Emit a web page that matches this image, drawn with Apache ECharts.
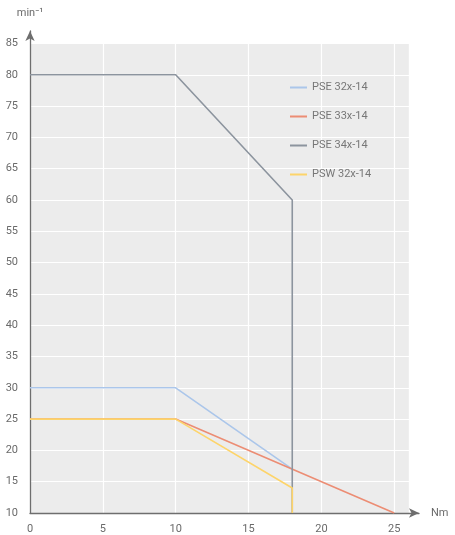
<!DOCTYPE html>
<html>
<head>
<meta charset="utf-8">
<script src="https://cdn.jsdelivr.net/npm/echarts@6/dist/echarts.min.js"></script>
<style>
  html, body { margin: 0; padding: 0; background: #fff; }
  #chart { width: 455px; height: 535px; }
</style>
</head>
<body>
<div id="chart"></div>
<script>
// curves: [torque Nm, speed min-1]
var seriesNames = ['PSE 32x-14', 'PSE 33x-14', 'PSE 34x-14', 'PSW 32x-14'];
var pse32 = [[0, 30], [10, 30], [18, 17]];
var pse33 = [[0, 25], [10, 25], [25, 10]];
var pse34 = [[0, 80], [10, 80], [18, 60], [18, 10]];
var psw32 = [[0, 25], [10, 25], [18, 14], [18, 10]];
// shaded plot area (data range) in Nm / min-1
var plotArea = [[0, 10], [26, 85]];
var colors = ['#abc6ea', '#ec8d74', '#8c949e', '#fdd46a'];

var myChart = echarts.init(document.getElementById('chart'));

var datas = [pse32, pse33, pse34, psw32];
var series = datas.map(function (d, i) {
    return {
        name: seriesNames[i],
        type: 'line',
        symbol: 'none',
        lineStyle: { color: colors[i], width: 1.6 },
        itemStyle: { color: colors[i] },
        data: d
    };
});
// grey background under the gridlines
series.unshift({
    type: 'line',
    z: -1,
    data: [],
    silent: true,
    markArea: {
        z: -1,
        silent: true,
        itemStyle: { color: '#ececec' },
        data: [[{ coord: plotArea[0] }, { coord: plotArea[1] }]]
    }
});

var axisText = { color: '#6a6a6a', fontSize: 11, fontFamily: 'Roboto' };
var axisLine = { show: true, lineStyle: { color: '#6e6e6e', width: 1.3 }, symbol: ['none', 'arrow'], symbolSize: [7, 10] };

var options = {
    animation: false,
    grid: { left: 30, right: 36, top: 31, bottom: 16, borderWidth: 0 },
    legend: {
        orient: 'vertical',
        left: 285, top: 77,
        itemWidth: 17, itemHeight: 2, itemGap: 18,
        icon: 'rect',
        textStyle: { color: '#777', fontSize: 11, fontFamily: 'Roboto' },
        data: seriesNames
    },
    xAxis: {
        type: 'value',
        min: 0, max: 26.7, interval: 5,
        name: 'Nm',
        nameGap: 12,
        nameTextStyle: axisText,
        axisLine: axisLine,
        axisTick: { show: false },
        axisLabel: Object.assign({ margin: 11, showMaxLabel: false }, axisText),
        splitLine: { lineStyle: { color: '#fff', width: 1.2 } }
    },
    yAxis: {
        type: 'value',
        min: 10, max: 87, interval: 5,
        name: 'min⁻¹',
        nameGap: 12,
        nameTextStyle: Object.assign({ align: 'center' }, axisText),
        axisLine: axisLine,
        axisTick: { show: false },
        axisLabel: Object.assign({ margin: 12, showMaxLabel: false }, axisText),
        splitLine: { lineStyle: { color: '#fff', width: 1.2 } }
    },
    series: series
};
myChart.setOption(options, true);
</script>
</body>
</html>
